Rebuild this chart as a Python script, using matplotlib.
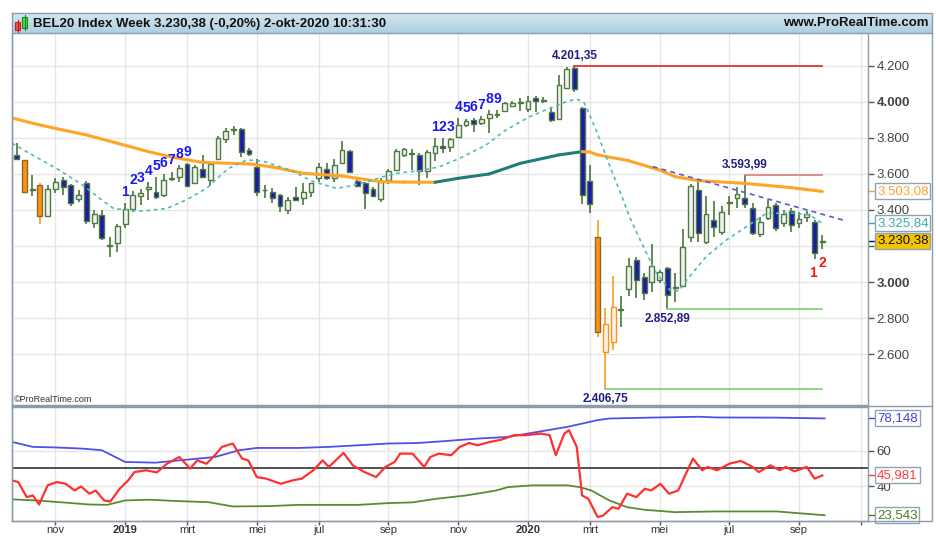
import numpy as np
import pandas as pd
import matplotlib
matplotlib.use('Agg')
import matplotlib.pyplot as plt
import matplotlib.transforms as mtransforms
from matplotlib.patches import Rectangle
from matplotlib.colors import LinearSegmentedColormap

plt.rcParams['font.family'] = ['Liberation Sans', 'DejaVu Sans']

# ---------------- data ----------------
start_date = '2018-10-01'
opens = [3706, 3678, 3512, 3539, 3367, 3517, 3567, 3539, 3459, 3548,
         3327, 3372, 3200, 3215, 3321, 3406, 3478, 3515, 3502, 3483,
         3570, 3585, 3654, 3548, 3628, 3567, 3682, 3793, 3846, 3850,
         3733, 3641, 3509, 3502, 3483, 3400, 3470, 3465, 3502, 3576,
         3626, 3576, 3659, 3728, 3561, 3548, 3517, 3459, 3567, 3622,
         3706, 3719, 3706, 3619, 3715, 3756, 3748, 3807, 3872, 3900,
         3885, 3909, 3928, 3952, 3980, 3996, 3959, 4020, 4005, 3946,
         3906, 4080, 4187, 3965, 3561, 3248, 2613, 2669, 2845, 2959,
         3122, 3030, 3002, 3011, 3076, 2972, 2978, 3248, 3511, 3220,
         3344, 3280, 3439, 3465, 3469, 3413, 3267, 3357, 3428, 3330,
         3394, 3326, 3363, 3335, 3222]
highs = [3772, 3680, 3595, 3552, 3539, 3580, 3585, 3545, 3511, 3561,
         3400, 3400, 3252, 3321, 3437, 3505, 3517, 3554, 3585, 3598,
         3613, 3650, 3659, 3650, 3706, 3659, 3811, 3854, 3867, 3854,
         3746, 3682, 3539, 3520, 3487, 3474, 3526, 3548, 3552, 3663,
         3659, 3682, 3783, 3733, 3576, 3557, 3530, 3576, 3626, 3737,
         3743, 3737, 3715, 3733, 3798, 3798, 3798, 3909, 3904, 3909,
         3922, 3956, 3956, 4002, 4006, 4020, 4033, 4033, 4030, 3974,
         4150, 4196, 4201.35, 3970, 3650, 3344, 2854, 3033, 2922, 3132,
         3141, 3048, 3211, 3067, 3085, 3048, 3293, 3543, 3567, 3478,
         3452, 3422, 3478, 3530, 3593.99, 3437, 3363, 3456, 3441, 3400,
         3409, 3391, 3396, 3344, 3261]
lows = [3678, 3495, 3475, 3322, 3367, 3493, 3483, 3420, 3446, 3321,
        3300, 3233, 3141, 3165, 3298, 3387, 3428, 3456, 3461, 3474,
        3561, 3557, 3526, 3543, 3576, 3533, 3678, 3771, 3817, 3696,
        3702, 3480, 3465, 3437, 3391, 3376, 3450, 3428, 3471, 3557,
        3567, 3557, 3654, 3604, 3530, 3404, 3474, 3446, 3544, 3617,
        3693, 3622, 3539, 3576, 3674, 3719, 3724, 3804, 3863, 3835,
        3872, 3826, 3909, 3946, 3974, 3952, 3946, 3946, 3993, 3891,
        3900, 4070, 4057, 3433, 3385, 2696, 2406.75, 2622, 2748, 2922,
        2909, 2900, 2946, 2993, 2852.89, 2891, 2974, 3224, 3224, 3211,
        3252, 3261, 3372, 3409, 3409, 3261, 3248, 3344, 3285, 3307,
        3280, 3298, 3335, 3128, 3181]
closes = [3683, 3502, 3518, 3369, 3515, 3554, 3526, 3437, 3483, 3339,
          3376, 3243, 3204, 3311, 3406, 3483, 3493, 3530, 3471, 3567,
          3578, 3635, 3533, 3637, 3585, 3654, 3798, 3841, 3850, 3724,
          3711, 3502, 3513, 3469, 3422, 3456, 3456, 3502, 3548, 3641,
          3576, 3650, 3733, 3609, 3533, 3496, 3478, 3557, 3617, 3728,
          3737, 3711, 3619, 3724, 3756, 3746, 3793, 3872, 3896, 3878,
          3904, 3932, 3933, 3993, 3993, 4000, 4007, 4007, 4009, 3900,
          4094, 4181, 4070, 3483, 3432, 2724, 2765, 2859, 2852, 3089,
          3011, 2937, 3089, 3054, 2928, 2966, 3196, 3535, 3274, 3376,
          3304, 3391, 3444, 3489, 3432, 3270, 3335, 3419, 3298, 3376,
          3317, 3348, 3378, 3159, 3230.38]
highlight_weeks = [1, 3, 75, 76, 77]

# long moving average (sampled at week numbers)
ma_long_week = [-0.6, 3, 6, 9, 13, 17, 20, 24, 30, 33, 37, 42, 44, 47, 50, 54,
                57, 61, 65, 70, 73, 74, 75, 79, 83, 85, 88, 94, 100, 104]
ma_long_val = [3911, 3872, 3844, 3817, 3771, 3724, 3694, 3664, 3656, 3639, 3604,
               3589, 3576, 3557, 3555, 3554, 3576, 3600, 3659, 3706, 3724, 3722,
               3706, 3674, 3622, 3585, 3563, 3548, 3524, 3503.08]
# short moving average
ma_short_week = [-0.6, 2, 5.5, 8.5, 10.7, 12.5, 14.2, 16.3, 19.4, 21.9, 24.5, 27.3,
                 29.7, 31.8, 35.3, 38.3, 41.3, 43, 45.2, 47.3, 49.5, 52.1, 54.6,
                 57.2, 60.6, 63, 66.2, 68.8, 71, 72.3, 73.3, 74.8, 76.6, 78.3,
                 79.1, 80.9, 82.6, 84.3, 85.5, 86.5, 89, 91.6, 94.2, 96.8, 100.2,
                 102.4, 104]
ma_short_val = [3771, 3706, 3622, 3539, 3465, 3409, 3400, 3394, 3409, 3456, 3520,
                3630, 3678, 3671, 3622, 3557, 3520, 3533, 3557, 3585, 3607, 3618,
                3641, 3687, 3761, 3840, 3918, 3965, 4002, 4017, 3994, 3844, 3641,
                3456, 3363, 3196, 3048, 2956, 2950, 3011, 3141, 3233, 3307, 3382,
                3382, 3372, 3325.84]
trend_week = [82.1, 107.1]
trend_val = [3641, 3339]

levels = [4201.35, 3593.99, 2852.89, 2406.75]
level_from = [72, 94, 84, 76]
level_to = 104
level_text = ['4.201,35', '3.593,99', '2.852,89', '2.406,75']
level_colors = ['#e02424', '#e07878', '#7ccf70', '#7ccf70']
level_above = [True, True, False, False]

count1_weeks = list(range(14, 23))
count2_weeks = list(range(54, 63))
count_labels = ['1', '2', '3', '4', '5', '6', '7', '8', '9']

# oscillator panel
osc_week = [-0.6, 0.2, 1.3, 2.1, 2.9, 4.0, 5.2, 6.3, 7.5, 8.3, 9.4, 10.2, 11.3, 12.1,
            13.3, 14.4, 15.2, 16.7, 18.1, 19.4, 21.0, 22.4, 23.3, 24.5, 25.6, 26.5,
            27.9, 29.1, 29.9, 31.0, 32.2, 34.1, 35.6, 36.8, 38.3, 39.5, 40.3, 42.2,
            43.4, 44.9, 46.4, 47.6, 48.8, 49.5, 51.1, 52.6, 53.4, 54.5, 56.1, 57.2,
            58.4, 59.5, 61.1, 62.6, 64.2, 65.7, 67.7, 68.8, 69.6, 70.7, 71.3, 72.3,
            73.0, 73.8, 75.0, 75.7, 76.9, 77.7, 78.8, 80.0, 81.1, 81.9, 83.1, 84.2,
            85.4, 87.3, 88.5, 89.2, 90.4, 92.0, 93.5, 95.0, 95.8, 97.3, 98.5, 99.3,
            100.4, 102.0, 103.0, 104.0]
osc_val = [43.2, 42.3, 33.8, 34.7, 29.6, 40.4, 42.3, 41.3, 37.5, 39.8, 35.7, 37.5,
           31.9, 31.3, 38.5, 43.2, 47.9, 48.9, 47.7, 52.6, 56.4, 49.8, 54.5, 52.6,
           57.4, 62.1, 64.0, 55.5, 54.5, 45.1, 44.2, 41.3, 43.2, 44.2, 48.9, 54.5,
           50.8, 58.7, 51.7, 47.9, 45.1, 50.8, 53.6, 58.3, 58.3, 50.8, 56.4, 58.3,
           57.4, 62.1, 64.3, 63.0, 64.9, 66.2, 68.7, 68.7, 69.6, 68.7, 57.4, 69.6,
           71.5, 62.1, 34.7, 32.8, 22.5, 23.4, 28.1, 27.2, 35.7, 33.8, 38.5, 37.5,
           41.3, 35.7, 37.5, 55.5, 48.9, 50.8, 48.9, 52.6, 54.2, 50.8, 47.9, 51.7,
           48.9, 50.8, 48.3, 50.8, 44.2, 45.981]
upper_week = [-0.6, 2.1, 5, 8.6, 11, 14, 17.9, 21, 25.6, 28.7, 31, 36.4, 40.3, 44.1,
              48, 51.8, 55.7, 59.5, 63.4, 67.3, 71.1, 75, 76.5, 82.7, 88.1, 90.4,
              98.1, 104.3]
upper_val = [64.9, 62.1, 61.8, 61.1, 60.2, 53.6, 53.2, 54.5, 56.4, 60.2, 61.5,
             61.5, 62.1, 63.0, 64.0, 64.3, 65.5, 66.8, 67.7, 70.6, 73.4, 77.2,
             78.1, 78.7, 79.1, 78.7, 78.6, 78.148]
lower_week = [-0.6, 2.5, 5.6, 9.4, 11.7, 14, 17.1, 21, 24.8, 27.9, 32.6, 36.4, 44.1,
              48, 51.1, 54.1, 58, 61.9, 63.4, 66.5, 71.1, 72.7, 74.2, 76.5, 78.8,
              81.1, 85, 90.4, 98.1, 104.3]
lower_val = [32.5, 31.9, 30.9, 29.6, 29.4, 31.9, 32.3, 31.5, 30.9, 28.5, 28.7, 29.4,
             29.4, 30.4, 30.8, 32.8, 34.7, 37.5, 39.4, 40.4, 40.4, 39.4, 37.5, 31.9,
             28.1, 26.6, 25.3, 25.7, 25.7, 23.543]

price_ticks = [2600, 2800, 3000, 3200, 3400, 3600, 3800, 4000, 4200]
month_names = {3: 'mrt', 5: 'mei', 7: 'jul', 9: 'sep', 11: 'nov'}

# ---------------- figure ----------------
W, H = 936, 536
fig = plt.figure(figsize=(W / 100, H / 100), dpi=100)
fig.patch.set_facecolor('white')


def rect(x0, y0, x1, y1):
    return [x0 / W, 1 - y1 / H, (x1 - x0) / W, (y1 - y0) / H]


PB = 521  # bottom of the oscillator panel (pixels from top)
ax = fig.add_axes(rect(12, 33, 868, 405))
ax2 = fig.add_axes(rect(12, 407, 868, PB), sharex=ax)
tax = fig.add_axes(rect(12, 13, 932, 33))

n = len(closes)
x = np.arange(n)
dates = pd.date_range(start_date, periods=n + 8, freq='7D')

xmin, xmax = -0.6, 109.9
ax.set_xlim(xmin, xmax)
ax.set_ylim(2317, 4383)
ax2.set_ylim(20.3, 84.6)

# month ticks
tick_pos, tick_lab, tick_bold = [], [], []
for i in range(1, len(dates)):
    if dates[i].month != dates[i - 1].month and dates[i].month % 2 == 1:
        tick_pos.append(i)
        if dates[i].month == 1:
            tick_lab.append(str(dates[i].year))
            tick_bold.append(True)
        else:
            tick_lab.append(month_names[dates[i].month] if i < n + 2 else '')
            tick_bold.append(False)

grid_c = '#e6e6e6'
for a in (ax, ax2):
    for t in tick_pos:
        a.axvline(t, color=grid_c, lw=1, zorder=0)
for p in price_ticks:
    ax.axhline(p, color=grid_c, lw=1, zorder=0)
for v in (40, 60):
    ax2.axhline(v, color=grid_c, lw=1, zorder=0)

# candles
wick_c = '#3c6a2c'
edge_c = '#4f7a3f'
bull_fill = '#f1f1f1'
bear_fill = '#1c1caa'
org = '#ff9112'
for i in range(n):
    o, h, l, c = opens[i], highs[i], lows[i], closes[i]
    hl = i in highlight_weeks
    wc = org if hl else wick_c
    ax.vlines(i, l, h, color=wc, lw=1.1, zorder=2)
    bottom = min(o, c)
    height = max(abs(c - o), 2)
    if c >= o:
        fc = '#fbf3ea' if hl else bull_fill
        ec = org if hl else edge_c
    else:
        fc = org if hl else bear_fill
        ec = '#8a6a2a' if hl else edge_c
    ax.bar(i, height, bottom=bottom, width=0.62, color=fc, edgecolor=ec,
           linewidth=1.0, zorder=3)

# long MA, teal when rising
for j in range(len(ma_long_week) - 1):
    col = '#1f7c78' if ma_long_val[j + 1] > ma_long_val[j] else '#ffa526'
    ax.plot(ma_long_week[j:j + 2], ma_long_val[j:j + 2], color=col, lw=2.2,
            solid_capstyle='round', zorder=4)

ax.plot(ma_short_week, ma_short_val, color='#55b9b9', lw=1.2,
        dashes=(2.2, 2.2), zorder=4)
ax.plot(trend_week, trend_val, color='#5a5ad0', lw=1.2, dashes=(3, 2.5), zorder=4)

for lv, f, txt, col, above in zip(levels, level_from, level_text, level_colors,
                                  level_above):
    ax.plot([f, level_to], [lv, lv], color=col, lw=1.2, zorder=2)
    ax.annotate(txt, (f, lv), xytext=(0, 3 if above else -3),
                textcoords='offset points', ha='center',
                va='bottom' if above else 'top', fontsize=8.5,
                fontweight='bold', color='#1e1e82', zorder=6)

for weeks in (count1_weeks, count2_weeks):
    for w, lab in zip(weeks, count_labels):
        ax.annotate(lab, (w, highs[w]), xytext=(0, 3), textcoords='offset points',
                    ha='center', va='bottom', fontsize=10, fontweight='bold',
                    color='#1818f0', zorder=6)

ax.annotate('1', (103, lows[103]), xytext=(-1, -5), textcoords='offset points',
            ha='center', va='top', fontsize=10, fontweight='bold', color='#f01818')
ax.annotate('2', (104, lows[104]), xytext=(0, -5), textcoords='offset points',
            ha='center', va='top', fontsize=10, fontweight='bold', color='#f01818')

ax.text(0.002, 0.004, '\u00a9ProRealTime.com', transform=ax.transAxes,
        fontsize=6.5, color='#333333', ha='left', va='bottom')

# axes styling
spine_c = '#8c9cab'
for a in (ax, ax2):
    for s in a.spines.values():
        s.set_color(spine_c)
        s.set_linewidth(1)
    a.yaxis.tick_right()
ax.spines['top'].set_visible(False)

ax.set_yticks(price_ticks)
# the 3.200 label sits under the last-price box in the reference
ax.set_yticklabels(['' if p == 3200 else '{:,}'.format(p).replace(',', '.')
                    for p in price_ticks])
for lab, p in zip(ax.get_yticklabels(), price_ticks):
    if p in (3000, 4000):
        lab.set_fontweight('bold')
        lab.set_color('#111111')
ax.tick_params(axis='y', direction='out', length=4, width=1, color='#555555',
               labelsize=9.5, labelcolor='#444444', pad=2)
ax.tick_params(axis='x', bottom=False, labelbottom=False)

ax2.set_yticks([40, 60])
ax2.set_yticklabels(['40', '60'])
ax2.tick_params(axis='y', direction='out', length=4, width=1, color='#555555',
                labelsize=9.5, labelcolor='#444444', pad=2)
ax2.set_xticks(tick_pos)
ax2.set_xticklabels(tick_lab)
for lab, b in zip(ax2.get_xticklabels(), tick_bold):
    if b:
        lab.set_fontweight('bold')
        lab.set_color('#111111')
ax2.tick_params(axis='x', direction='out', length=3, width=1, color='#555555',
                labelsize=8, labelcolor='#333333', pad=0)

# oscillator panel
ax2.axhline(50, color='#222222', lw=1.1, zorder=2)
ax2.plot(upper_week, upper_val, color='#5050e6', lw=1.3, zorder=3)
ax2.plot(lower_week, lower_val, color='#5c8a34', lw=1.3, zorder=3)
ax2.plot(osc_week, osc_val, color='#ff3030', lw=1.6, zorder=4)

# value boxes on right axis
def value_box(a, y, txt, fc, tc):
    tr = mtransforms.blended_transform_factory(a.transAxes, a.transData)
    a.text(1.0105, y, txt, transform=tr, ha='left', va='center', fontsize=9.5,
           color=tc, clip_on=False, zorder=10,
           bbox=dict(boxstyle='square,pad=0.15', fc=fc, ec='#8ea4b4', lw=1))
    a.plot([1.0, 1.0065], [y, y], transform=tr, color=tc, lw=1, clip_on=False)


value_box(ax, 3503.08, '3.503,08', 'white', '#ffa030')
value_box(ax, 3325.84, '3.325,84', 'white', '#3aabab')
value_box(ax, 3230.38, '3.230,38', '#f5c400', '#111111')
value_box(ax2, 78.148, '78,148', 'white', '#4040e0')
value_box(ax2, 45.981, '45,981', 'white', '#ff3a3a')
value_box(ax2, 23.543, '23,543', 'white', '#4a7a20')

# title bar
grad = np.linspace(0, 1, 50).reshape(-1, 1)
cmap = LinearSegmentedColormap.from_list('tb', ['#d3e7f1', '#aecfe0'])
tax.imshow(grad, aspect='auto', cmap=cmap, extent=[12, 932, 33, 13])
tax.set_xlim(12, 932)
tax.set_ylim(33, 13)
tax.set_axis_off()
tax.add_patch(Rectangle((15.5, 22), 5, 8, fc='#ff4a4a', ec='#c02020', lw=0.8))
tax.plot([18, 18], [20, 31.5], color='#c02020', lw=0.8)
tax.add_patch(Rectangle((22.5, 17), 5, 11, fc='#4ae04a', ec='#208020', lw=0.8))
tax.plot([25, 25], [15, 30], color='#208020', lw=0.8)
tax.text(33, 23.5, 'BEL20 Index Week 3.230,38 (-0,20%) 2-okt-2020 10:31:30',
         fontsize=9.5, fontweight='bold', va='center', ha='left', color='#111111')
tax.text(929, 23.5, 'www.ProRealTime.com', fontsize=9.5, fontweight='bold',
         va='center', ha='right', color='#111111')

# outer frame
oax = fig.add_axes([0, 0, 1, 1], zorder=20)
oax.set_xlim(0, W)
oax.set_ylim(H, 0)
oax.set_axis_off()
oax.patch.set_alpha(0)
oax.plot([12, 932, 932, 12, 12], [13, 13, PB, PB, 13], color=spine_c, lw=1)
oax.plot([12, 932], [33, 33], color=spine_c, lw=1)
oax.plot([12, 932], [406, 406], color=spine_c, lw=1)

fig.savefig('out.png', dpi=100)
